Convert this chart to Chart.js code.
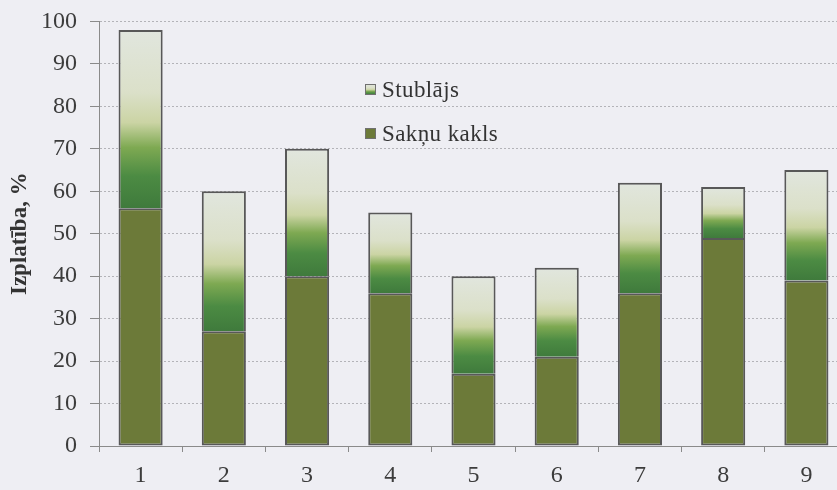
<!DOCTYPE html>
<html>
<head>
<meta charset="utf-8">
<script src="https://cdn.jsdelivr.net/npm/chart.js@4"></script>
<style>
  html, body { margin: 0; padding: 0; background: #eeeef3; overflow: hidden; }
  #wrap { width: 860px; height: 490px; }
</style>
</head>
<body>
<div id="wrap"><canvas id="c" width="860" height="490"></canvas></div>
<script>
// Categories on the x axis
const categories = ['1', '2', '3', '4', '5', '6', '7', '8', '9'];
// Lower segment: root collar (%)
const saknuKakls = [56, 27, 40, 36, 17, 21, 36, 49, 39];
// Upper segment: stem (%), stacked on top of the root collar
const stublajs = [42, 33, 30, 19, 23, 21, 26, 12, 26];
// Y axis range and step
const yMin = 0, yMax = 100, yStep = 10;

const serif = '"Liberation Serif", "DejaVu Serif", serif';
const OLIVE = '#6c7a39';
const EDGE = '#585858';

function stemGradient(ctx, top, bot) {
  const g = ctx.createLinearGradient(0, top, 0, bot);
  g.addColorStop(0.00, '#e1e6de');
  g.addColorStop(0.35, '#dbe0c9');
  g.addColorStop(0.52, '#cbd4a4');
  g.addColorStop(0.66, '#7ea952');
  g.addColorStop(0.82, '#4c8b43');
  g.addColorStop(1.00, '#3f7a3c');
  return g;
}

function stemFill(c) {
  const chart = c.chart;
  const ys = chart.scales && chart.scales.y;
  if (!ys || c.type !== 'data') return '#9fbf7a';
  const i = c.dataIndex;
  const top = ys.getPixelForValue(saknuKakls[i] + stublajs[i]);
  const bot = ys.getPixelForValue(saknuKakls[i]);
  if (!isFinite(top) || !isFinite(bot) || top === bot) return '#9fbf7a';
  return stemGradient(chart.ctx, top, bot);
}

// Legend drawn inside the plot area
const innerLegend = {
  id: 'innerLegend',
  afterDatasetsDraw(chart) {
    const ctx = chart.ctx;
    const items = [
      { label: chart.data.datasets[1].label, y: 89, stem: true },
      { label: chart.data.datasets[0].label, y: 133, stem: false }
    ];
    ctx.save();
    items.forEach(it => {
      const x = 365, s = 11, y0 = Math.round(it.y - s / 2);
      ctx.fillStyle = it.stem ? stemGradient(ctx, y0, y0 + s) : OLIVE;
      ctx.fillRect(x, y0, s, s);
      ctx.strokeStyle = '#707070';
      ctx.lineWidth = 1;
      ctx.strokeRect(x + 0.5, y0 + 0.5, s - 1, s - 1);
      ctx.fillStyle = '#333';
      ctx.font = '23px ' + serif;
      if ('letterSpacing' in ctx) ctx.letterSpacing = '0.4px';
      ctx.textBaseline = 'middle';
      ctx.textAlign = 'left';
      ctx.fillText(it.label, x + s + 6, it.y + 2);
    });
    ctx.restore();
  }
};

new Chart(document.getElementById('c'), {
  type: 'bar',
  data: {
    labels: categories,
    datasets: [
      {
        label: 'Sakņu kakls',
        data: saknuKakls,
        backgroundColor: OLIVE,
        borderColor: EDGE,
        borderWidth: 2,
        borderSkipped: false,
        barPercentage: 0.53,
        categoryPercentage: 1
      },
      {
        label: 'Stublājs',
        data: stublajs,
        backgroundColor: stemFill,
        borderColor: EDGE,
        borderWidth: 2,
        borderSkipped: 'start',
        barPercentage: 0.53,
        categoryPercentage: 1
      }
    ]
  },
  options: {
    responsive: false,
    animation: false,
    layout: { padding: { top: 3, right: 12, bottom: 0, left: 0 } },
    plugins: { legend: { display: false }, tooltip: { enabled: false } },
    scales: {
      x: {
        stacked: true,
        offset: true,
        afterFit(scale) { scale.height = 44; },
        grid: {
          offset: true,
          drawOnChartArea: false,
          drawTicks: true,
          tickLength: 6,
          tickColor: '#8a8a8a'
        },
        border: { display: true, color: '#8a8a8a', width: 1 },
        ticks: { color: '#3c3c3c', font: { family: serif, size: 24 }, padding: 9 }
      },
      y: {
        stacked: true,
        min: yMin,
        max: yMax,
        afterFit(scale) { scale.width = 99; },
        ticks: { stepSize: yStep, color: '#3c3c3c', font: { family: serif, size: 24, lineHeight: 0.7 }, padding: 13 },
        grid: {
          color: '#b3b3b8',
          lineWidth: 1,
          tickLength: 9,
          tickColor: '#8a8a8a',
          tickBorderDash: []
        },
        border: { display: true, color: '#8a8a8a', width: 1, dash: [2, 2] },
        title: {
          display: true,
          text: 'Izplatība, %',
          color: '#333',
          font: { family: serif, size: 23, weight: 'bold' },
          padding: { top: 6, bottom: 4 }
        }
      }
    }
  },
  plugins: [innerLegend]
});
</script>
</body>
</html>
